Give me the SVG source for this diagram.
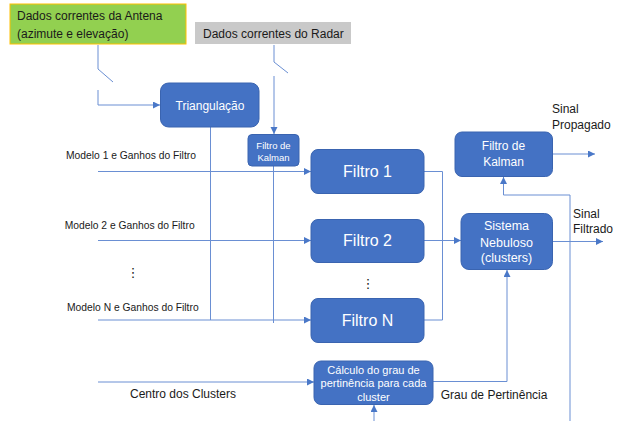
<svg xmlns="http://www.w3.org/2000/svg" width="624" height="421" viewBox="0 0 624 421">
<defs>
<marker id="arr" markerUnits="userSpaceOnUse" markerWidth="8" markerHeight="8" refX="7" refY="3.5" orient="auto">
<path d="M0,0 L7,3.5 L0,7 Z" fill="#4a78c8"/>
</marker>
<style>
.t{font-family:"Liberation Sans",Arial,sans-serif;fill:#1a1a1a}
.w{font-family:"Liberation Sans",Arial,sans-serif;fill:#ffffff;text-anchor:middle}
.box{fill:#4472c4;stroke:#3a64b0;stroke-width:1}
.ln{fill:none;stroke:#6a8fd3;stroke-width:1}
.ar{marker-end:url(#arr)}
</style>
</defs>
<rect width="624" height="421" fill="#ffffff"/>

<g id="connectors">
<!-- antenna switch -->
<path class="ln" d="M98,45 V69 L113,82"/>
<path class="ln ar" d="M98,90 V105 H160"/>
<!-- radar switch -->
<path class="ln" d="M274,45 V62 L288,73"/>
<path class="ln ar" d="M274,76 V134"/>
<!-- verticals -->
<path class="ln" d="M210.5,127 V320"/>
<path class="ln" d="M273.5,166 V323"/>
<!-- modelo inputs -->
<path class="ln ar" d="M98,171.5 H311"/>
<path class="ln ar" d="M98,240.5 H311"/>
<path class="ln ar" d="M98,320 H311"/>
<!-- filter outputs -->
<path class="ln" d="M424,171.5 H442.5 V320 H424"/>
<path class="ln ar" d="M424,240.5 H461"/>
<!-- sistema output -->
<path class="ln ar" d="M553,241.5 H603"/>
<!-- feedback to kalman -->
<path class="ln" d="M570,421 V195"/>
<path class="ln ar" d="M570,195 H503.5 V177"/>
<!-- kalman output -->
<path class="ln ar" d="M553,154 H595"/>
<!-- grau pertinencia -->
<path class="ln ar" d="M433,381.5 H507 V270"/>
<!-- centro clusters -->
<path class="ln ar" d="M98,382 H314"/>
<path class="ln ar" d="M374,421 V405"/>
</g>

<g id="antena">
<rect x="10" y="4" width="176" height="40" fill="#92d050" stroke="#ffc000" stroke-width="1"/>
<text class="t" x="17" y="20" font-size="12">Dados correntes da Antena</text>
<text class="t" x="17" y="37.5" font-size="12">(azimute e elevação)</text>
</g>

<g id="radar">
<rect x="195" y="22" width="156" height="22" fill="#c9c9c9"/>
<text class="t" x="203" y="37.5" font-size="12">Dados correntes do Radar</text>
</g>

<g id="triangulacao">
<rect class="box" x="160.5" y="83" width="98.5" height="44" rx="8"/>
<text class="w" x="210" y="109.5" font-size="12">Triangulação</text>
</g>

<g id="kalman-pequeno">
<rect class="box" x="248" y="134.5" width="51" height="31.5" rx="4"/>
<text class="w" x="273.5" y="148.5" font-size="9.5">Filtro de</text>
<text class="w" x="273.5" y="160.7" font-size="9.5">Kalman</text>
</g>

<g id="modelos">
<text class="t" x="66" y="158.7" font-size="10.3">Modelo 1 e Ganhos do Filtro</text>
<text class="t" x="64.7" y="229.4" font-size="10.3">Modelo 2 e Ganhos do Filtro</text>
<text class="t" x="67" y="311" font-size="10.3">Modelo N e Ganhos do Filtro</text>
<text class="t" x="133" y="277" font-size="13" text-anchor="middle" style="font-family:'DejaVu Sans',sans-serif">⋮</text>
</g>

<g id="filtro1">
<rect class="box" x="311" y="149.5" width="113" height="44" rx="7"/>
<text class="w" x="367.5" y="177.4" font-size="16">Filtro 1</text>
</g>

<g id="filtro2">
<rect class="box" x="311" y="219.5" width="113" height="43" rx="7"/>
<text class="w" x="367.5" y="246.4" font-size="16">Filtro 2</text>
</g>

<g id="dots2">
<text class="t" x="368" y="288" font-size="13" text-anchor="middle" style="font-family:'DejaVu Sans',sans-serif">⋮</text>
</g>

<g id="filtroN">
<rect class="box" x="311" y="298.5" width="113" height="44" rx="7"/>
<text class="w" x="367.5" y="325.7" font-size="16">Filtro N</text>
</g>

<g id="kalman">
<rect class="box" x="455" y="132" width="97.5" height="44.5" rx="7"/>
<text class="w" x="503.5" y="150.3" font-size="12">Filtro de</text>
<text class="w" x="503.5" y="166" font-size="12">Kalman</text>
</g>

<g id="sinal-propagado">
<text class="t" x="552" y="113.3" font-size="12">Sinal</text>
<text class="t" x="552" y="129.3" font-size="12">Propagado</text>
</g>

<g id="sistema">
<rect class="box" x="461" y="213.5" width="91.5" height="56" rx="8"/>
<text class="w" x="506.5" y="230" font-size="12.5">Sistema</text>
<text class="w" x="506.5" y="246.6" font-size="12.5">Nebuloso</text>
<text class="w" x="506.5" y="262" font-size="12.5">(clusters)</text>
</g>

<g id="sinal-filtrado">
<text class="t" x="573" y="218.3" font-size="12">Sinal</text>
<text class="t" x="573" y="233.3" font-size="12">Filtrado</text>
</g>

<g id="calculo">
<rect class="box" x="314" y="361" width="119" height="43.5" rx="7"/>
<text class="w" x="373.5" y="374" font-size="11">Cálculo do grau de</text>
<text class="w" x="373.5" y="387.3" font-size="11">pertinência para cada</text>
<text class="w" x="373.5" y="400.7" font-size="11">cluster</text>
</g>

<g id="labels">
<text class="t" x="130" y="397.6" font-size="12">Centro dos Clusters</text>
<text class="t" x="440.7" y="399.3" font-size="12">Grau de Pertinência</text>
</g>
</svg>
